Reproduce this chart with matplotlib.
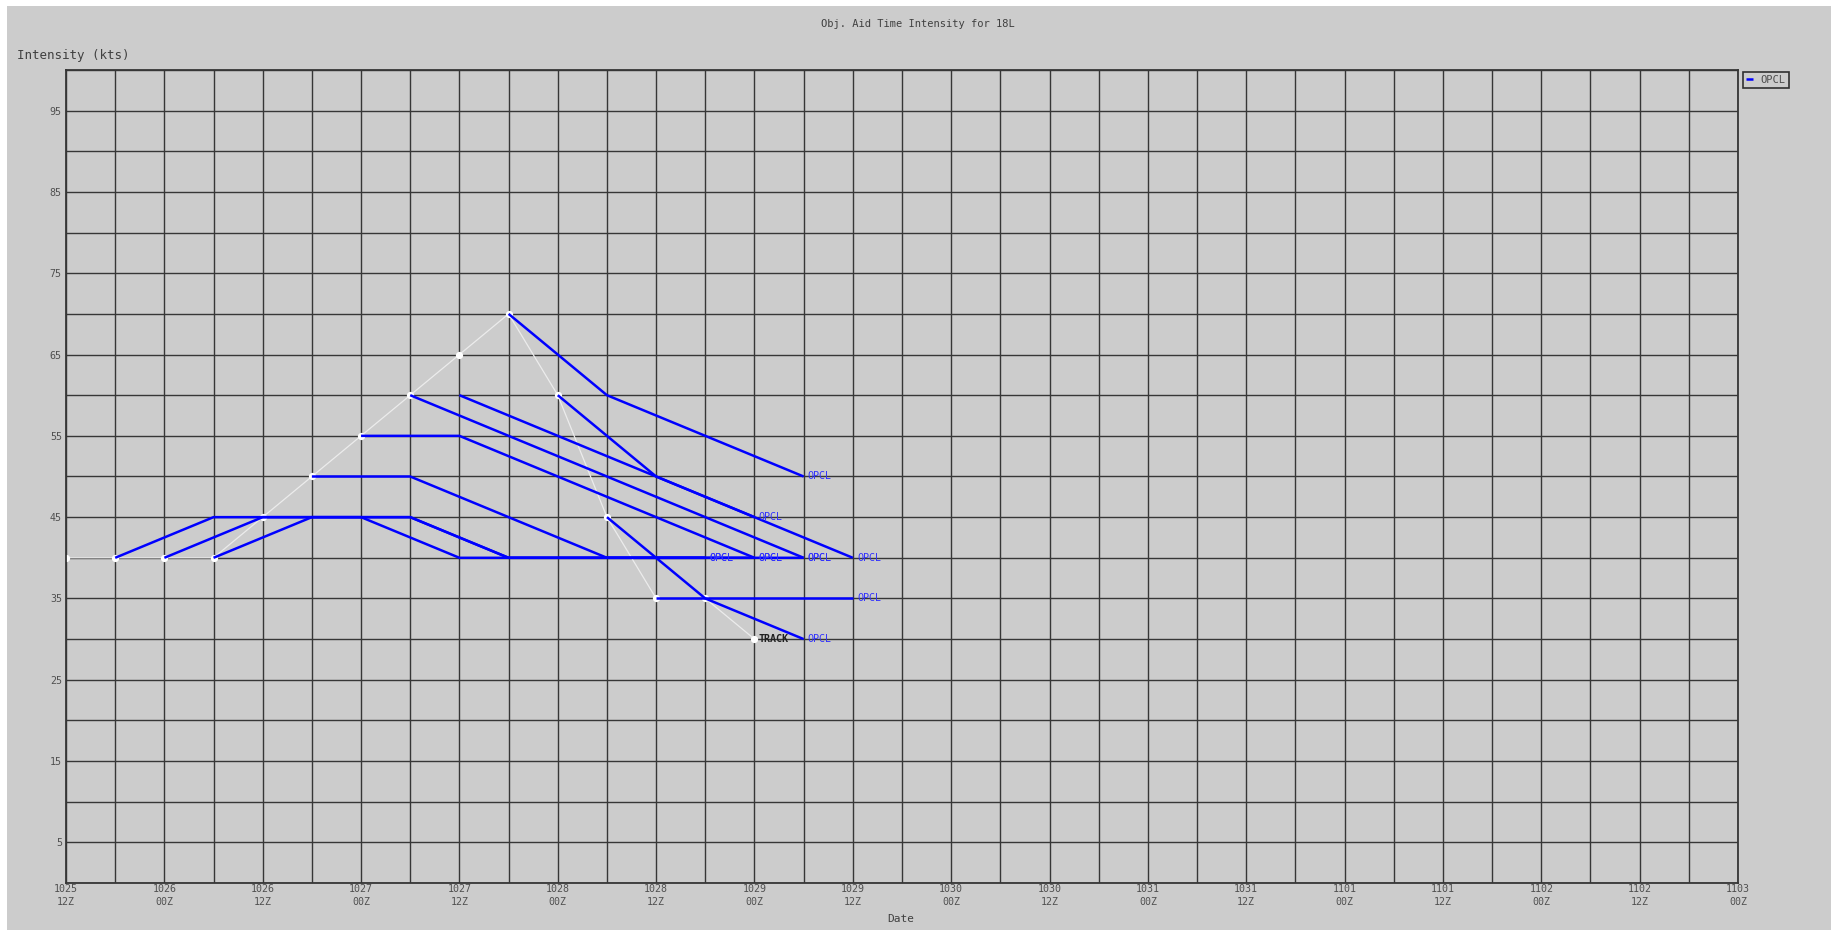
import matplotlib
matplotlib.use("Agg")
import matplotlib.pyplot as plt
from matplotlib.patches import Rectangle
from matplotlib.ticker import MultipleLocator

# hours after 1025 12Z
track_hours = [0, 6, 12, 18, 24, 30, 36, 42, 48, 54, 60, 66, 72, 78, 84]
track_kts = [40, 40, 40, 40, 45, 50, 55, 60, 65, 70, 60, 45, 35, 35, 30]

opcl_hours = [
    [6, 18, 30, 42, 54, 66, 78],
    [12, 24, 36, 48, 60, 72, 84],
    [18, 30, 42, 54, 66, 78, 90],
    [30, 42, 54, 66, 78],
    [36, 48, 60, 72, 84],
    [42, 54, 66, 78, 90],
    [48, 60, 72, 84],
    [54, 66, 78, 90],
    [60, 72, 84, 96],
    [66, 78, 90],
    [72, 84, 96],
]
opcl_kts = [
    [40, 45, 45, 45, 40, 40, 40],
    [40, 45, 45, 40, 40, 40, 40],
    [40, 45, 45, 40, 40, 40, 40],
    [50, 50, 45, 40, 40],
    [55, 55, 50, 45, 40],
    [60, 55, 50, 45, 40],
    [60, 55, 50, 45],
    [70, 60, 55, 50],
    [60, 50, 45, 40],
    [45, 35, 30],
    [35, 35, 35],
]

date_ticks = list(range(0, 205, 12))
date_labels = ["1025\n12Z", "1026\n00Z", "1026\n12Z", "1027\n00Z", "1027\n12Z",
               "1028\n00Z", "1028\n12Z", "1029\n00Z", "1029\n12Z", "1030\n00Z",
               "1030\n12Z", "1031\n00Z", "1031\n12Z", "1101\n00Z", "1101\n12Z",
               "1102\n00Z", "1102\n12Z", "1103\n00Z"]
kts_ticks = list(range(5, 100, 10))

MONO = "DejaVu Sans Mono"
BG = "#cccccc"
GRID = "#363636"
BLUE = "#0000ff"

fig = plt.figure(figsize=(18.35, 9.33), dpi=100, facecolor="white")
fig.patches.append(Rectangle((7 / 1835, 3 / 933), 1824 / 1835, 924 / 933,
                             transform=fig.transFigure, facecolor=BG,
                             edgecolor="none", zorder=-10))

ax = fig.add_axes([66 / 1835, 50 / 933, 1672 / 1835, 813 / 933])
ax.set_zorder(1)
ax.set_facecolor(BG)
ax.set_xlim(0, 204)
ax.set_ylim(0, 100)

ax.set_xticks(date_ticks)
ax.set_xticklabels(date_labels, fontfamily=MONO, fontsize=7.2, color="#505050",
                   linespacing=1.3)
ax.xaxis.set_minor_locator(MultipleLocator(6))
ax.set_yticks(kts_ticks)
ax.set_yticklabels([str(v) for v in kts_ticks], fontfamily=MONO, fontsize=7.2,
                   color="#505050")
ax.yaxis.set_minor_locator(MultipleLocator(10))
ax.tick_params(which="both", length=0)
ax.tick_params(axis="x", pad=1)
ax.tick_params(axis="y", pad=3)

ax.grid(True, which="both", color=GRID, linewidth=1.0)
ax.set_axisbelow(True)
for sp in ax.spines.values():
    sp.set_color(GRID)
    sp.set_linewidth(1.3)

# best track
ax.plot(track_hours, track_kts, color="#ececec", linewidth=0.9, zorder=2)
ax.plot(track_hours, track_kts, linestyle="none", marker="o", markersize=4.2,
        markerfacecolor="white", markeredgecolor="white", zorder=2.5)
ax.annotate("TRACK", (track_hours[-1], track_kts[-1]), xytext=(3, 0),
            textcoords="offset points", va="center", ha="left",
            fontfamily=MONO, fontsize=7.2, fontweight="bold", color="#202020",
            zorder=5)

# OPCL forecasts
handle = None
for hrs, kts in zip(opcl_hours, opcl_kts):
    (handle,) = ax.plot(hrs, kts, color=BLUE, linewidth=1.8, zorder=3,
                        solid_capstyle="butt")
    ax.annotate("OPCL", (hrs[-1], kts[-1]), xytext=(3, 0),
                textcoords="offset points", va="center", ha="left",
                fontfamily=MONO, fontsize=7.2, color="#3030ff", zorder=5)

fig.text(918 / 1835, 1 - 24 / 933, "Obj. Aid Time Intensity for 18L",
         ha="center", va="center", fontfamily=MONO, fontsize=7.5, color="#404040")
fig.text(17 / 1835, 1 - 56 / 933, "Intensity (kts)", ha="left", va="center",
         fontfamily=MONO, fontsize=9, color="#404040")
fig.text(901 / 1835, 1 - 919 / 933, "Date", ha="center", va="center",
         fontfamily=MONO, fontsize=8, color="#404040")

leg = ax.legend([handle], ["OPCL"], loc="upper left",
                bbox_to_anchor=(1743 / 1835, 1 - 72 / 933),
                bbox_transform=fig.transFigure, borderaxespad=0,
                prop={"family": MONO, "size": 7.5}, handlelength=0.7,
                handletextpad=0.7, borderpad=0.3, fancybox=False,
                framealpha=1, facecolor=BG, edgecolor="#303030")
leg.get_frame().set_linewidth(1.2)
for t in leg.get_texts():
    t.set_color("#505050")

fig.savefig("out.png", dpi=100, facecolor="white")
